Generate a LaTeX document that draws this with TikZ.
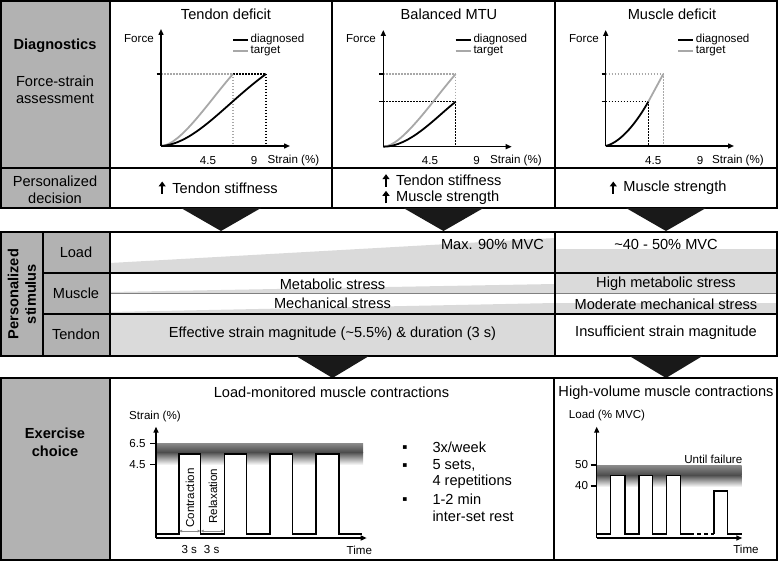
\documentclass[tikz,border=0pt]{standalone}
\usepackage{fontspec}
\setmainfont{Liberation Sans}
\newfontfamily\dejavu{DejaVu Sans}
\usetikzlibrary{arrows.meta,calc}
\definecolor{colgray}{HTML}{B2B2B2}
\definecolor{fillgray}{HTML}{DADADA}
\definecolor{tgtgray}{HTML}{A8A8A8}
\begin{document}
\begin{tikzpicture}[x=1pt,y=-1pt,
 frameline/.style={line width=1.5pt, draw=black},
 big/.style={font=\fontsize{14.6}{17.5}\selectfont, inner sep=0pt},
 bigb/.style={font=\fontsize{14.6}{17.5}\selectfont\bfseries, inner sep=0pt, align=center},
 small/.style={font=\fontsize{11.6}{13}\selectfont, inner sep=0pt},
 axarrow/.style={line width=1.4pt, -{Triangle[length=6pt,width=5pt]}},
 diagline/.style={line width=1.8pt},
 tgt/.style={line width=1.8pt, draw=tgtgray},
 dotk/.style={line width=1.4pt, dash pattern=on 1.5pt off 1.5pt},
 dotg/.style={line width=1.4pt, dash pattern=on 1.5pt off 1.5pt, draw=tgtgray},
 tickline/.style={line width=1.4pt},
 wave/.style={line width=1.4pt, line join=miter, fill=white},
 tri/.style={fill=black!90, draw=none},
 uparr/.style={line width=2.2pt, -{Triangle[length=5pt,width=7pt]}},
 garr/.style={draw=black!45, line width=1pt, {Latex[length=3pt,width=3pt]}-{Latex[length=3pt,width=3pt]}},
 bul/.style={font=\fontsize{7.5}{8}\dejavu, inner sep=0pt},
]
\useasboundingbox (0,0) rectangle (779,561);

% ================= Section 1 =================
\fill[colgray] (1,1) rectangle (110,208);
\draw[frameline] (1,1) rectangle (777,208);
\draw[frameline] (110,1) -- (110,208);
\draw[frameline] (332,1) -- (332,208);
\draw[frameline] (555,1) -- (555,208);
\draw[frameline] (1,168) -- (777,168);

\node[bigb] (diag) at (55,46) {Diagnostics};
\node[big, align=center] (fsa) at (55,90) {Force-strain\\assessment};
\node[big, align=center] (pdec) at (55,190) {Personalized\\decision};

\node[big] (t1) at (226,14) {Tendon deficit};
\node[big] (t2) at (449,14) {Balanced MTU};
\node[big] (t3) at (672,14) {Muscle deficit};

% ---- graph 1
\coordinate (o1) at (161,146);
\coordinate (y1) at (161,29);
\coordinate (x1) at (290,146);
\draw[dotg] (161,74) -- (233,74) -- (233,146);
\draw[dotk] (233,74) -- (266,74) -- (266,146);
\draw[tickline] (156.5,74) -- (161,74);
\draw[tgt] (o1) .. controls (180,146) and (210,100) .. (233,74);
\draw[diagline] (o1) .. controls (195,144) and (225,104) .. (266,74);
\draw[axarrow] (o1) -- (y1);
\draw[axarrow] (o1) -- (x1);
\node[small, anchor=east] (f1) at (154,39) {Force};
\draw[diagline] (233,40) -- (248,40);
\node[small, anchor=west] (l1a) at (250.5,40) {diagnosed};
\draw[tgt] (233,51) -- (248,51);
\node[small, anchor=west] (l1b) at (250.5,51) {target};
\node[small] (a1) at (208,160.7) {4.5};
\node[small] (b1) at (254,160.7) {9};
\node[small] (s1) at (293.5,160.7) {Strain (\%)};

% ---- graph 2
\coordinate (o2) at (383.3,146.7);
\coordinate (y2) at (383.3,30);
\coordinate (x2) at (511.7,146.7);
\draw[dotg] (383.3,74) -- (455.7,74) -- (455.7,101.7);
\draw[dotk] (383.3,101.7) -- (455.7,101.7) -- (455.7,146.7);
\draw[tickline] (379,74) -- (383.3,74);
\draw[tickline] (379,101.7) -- (383.3,101.7);
\draw[tgt] (o2) .. controls (402,146.7) and (433,100) .. (455.7,74);
\draw[diagline] (o2) .. controls (410,146.7) and (435,118) .. (455.7,101.7);
\draw[axarrow] (o2) -- (y2);
\draw[axarrow] (o2) -- (x2);
\node[small, anchor=east] (f2) at (376,39) {Force};
\draw[diagline] (455.7,40) -- (470.7,40);
\node[small, anchor=west] (l2a) at (473.3,40) {diagnosed};
\draw[tgt] (455.7,51) -- (470.7,51);
\node[small, anchor=west] (l2b) at (473.3,51) {target};
\node[small] (a2) at (430,160.7) {4.5};
\node[small] (b2) at (476.7,160.7) {9};
\node[small] (s2) at (516,160.7) {Strain (\%)};

% ---- graph 3
\coordinate (o3) at (605.7,146);
\coordinate (y3) at (605.7,30);
\coordinate (x3) at (734,146);
\draw[dotg] (605.7,74) -- (663.3,74) -- (663.3,146);
\draw[dotk] (605.7,101.7) -- (648.3,101.7) -- (648.3,146);
\draw[tickline] (601.5,74) -- (605.7,74);
\draw[tickline] (601.5,101.7) -- (605.7,101.7);
\draw[tgt] (648.3,101.7) -- (663.3,74);
\draw[diagline] (o3) .. controls (622,142) and (638,120) .. (648.3,101.7);
\draw[axarrow] (o3) -- (y3);
\draw[axarrow] (o3) -- (x3);
\node[small, anchor=east] (f3) at (599,39) {Force};
\draw[diagline] (678.3,40) -- (693.3,40);
\node[small, anchor=west] (l3a) at (695.7,40) {diagnosed};
\draw[tgt] (678.3,51) -- (693.3,51);
\node[small, anchor=west] (l3b) at (695.7,51) {target};
\node[small] (a3) at (653.3,160.7) {4.5};
\node[small] (b3) at (700,160.7) {9};
\node[small] (s3) at (738,160.7) {Strain (\%)};

% ---- decisions
\node[big] (d1) at (225,188) {Tendon stiffness};
\draw[uparr] ($(d1.west)+(-10,6)$) -- ($(d1.west)+(-10,-6.5)$);
\node[big, anchor=west] (d2a) at (396,180.7) {Tendon stiffness};
\node[big, anchor=west] (d2b) at (396,197.3) {Muscle strength};
\draw[uparr] ($(d2a.west)+(-10,6)$) -- ($(d2a.west)+(-10,-6.5)$);
\draw[uparr] ($(d2b.west)+(-10,6)$) -- ($(d2b.west)+(-10,-6.5)$);
\node[big] (d3) at (675,188) {Muscle strength};
\draw[uparr] ($(d3.west)+(-10,6)$) -- ($(d3.west)+(-10,-6.5)$);

% ---- triangles
\fill[tri] (181,208) -- (261,208) -- (221,231) -- cycle;
\fill[tri] (403.5,208) -- (483.5,208) -- (443.5,231) -- cycle;
\fill[tri] (626,208) -- (706,208) -- (666,231) -- cycle;

% ================= Section 2 =================
\fill[colgray] (1,232) rectangle (110,356);
\fill[fillgray] (110,263) -- (555,238) -- (555,273) -- (110,273) -- cycle;
\fill[fillgray] (555,249) rectangle (777,273);
\fill[fillgray] (110,292) -- (555,284) -- (555,293) -- (110,293) -- cycle;
\fill[fillgray] (110,312) -- (555,303) -- (555,314) -- (110,314) -- cycle;
\fill[fillgray] (555,273) rectangle (777,293);
\fill[fillgray] (555,303) rectangle (777,314);
\fill[fillgray] (110,314) rectangle (555,356);
\draw[line width=0.8pt, black!50] (110,293) -- (777,293);
\draw[frameline] (1,232) rectangle (777,356);
\draw[frameline] (43,232) -- (43,356);
\draw[frameline] (110,232) -- (110,356);
\draw[frameline] (555,232) -- (555,356);
\draw[frameline] (43,273) -- (777,273);
\draw[frameline] (43,314) -- (777,314);

\node[bigb, rotate=90] (ps) at (22,294) {Personalized\\stimulus};
\node[big] (ld) at (76,252) {Load};
\node[big] (ms) at (76,293.3) {Muscle};
\node[big] (td) at (76,334.3) {Tendon};
\node[big, anchor=east] (mx) at (544,244) {Max. 90\% MVC};
\node[big] (r40) at (666,244) {\textasciitilde40 - 50\% MVC};
\node[big] (met) at (332.5,284.3) {Metabolic stress};
\node[big] (mec) at (332.5,303.3) {Mechanical stress};
\node[big] (eff) at (332.5,334) {Effective strain magnitude (\textasciitilde5.5\%) \& duration (3 s)};
\node[big] (hme) at (666,284) {High metabolic stress};
\node[big] (mme) at (666,304) {Moderate mechanical stress};
\node[big] (ins) at (666,333) {Insufficient strain magnitude};

\fill[tri] (296,356) -- (369,356) -- (332.5,378) -- cycle;
\fill[tri] (629.5,356) -- (702.5,356) -- (666,378) -- cycle;

% ================= Section 3 =================
\fill[colgray] (1,378) rectangle (110,560);
\draw[frameline] (1,378) rectangle (777,560);
\draw[frameline] (110,378) -- (110,560);
\draw[frameline] (554,378) -- (554,560);
\node[bigb] (ex) at (55,442.5) {Exercise\\choice};
\node[big] (lmt) at (331.5,392.7) {Load-monitored muscle contractions};
\node[big] (hvt) at (666,392.7) {High-volume muscle contractions};

% ---- left graph
\shade[top color=black!45, bottom color=black!70] (156,443) rectangle (363,452);
\shade[top color=black!70, bottom color=white] (156,452) rectangle (363,465);
\draw[wave] (156,534) -- (179,534) -- (179,454) -- (200.7,454) -- (200.7,534) -- (224.3,534) -- (224.3,454) -- (246.7,454) -- (246.7,534) -- (270,534) -- (270,454) -- (292.7,454) -- (292.7,534) -- (316,534) -- (316,454) -- (339,454) -- (339,534) -- (361.7,534);
\coordinate (oL) at (156,538);
\coordinate (yL) at (156,426.7);
\coordinate (xL) at (366.7,538);
\draw[axarrow] (oL) -- (yL);
\draw[axarrow] (oL) -- (xL);
\draw[tickline] (150,443.3) -- (156,443.3);
\draw[tickline] (150,464.3) -- (156,464.3);
\node[small] (sL) at (155,416) {Strain (\%)};
\node[small] (v65) at (137.5,443.3) {6.5};
\node[small] (v45) at (137.5,464.3) {4.5};
\coordinate (c1) at (179,531);
\coordinate (c2) at (200.7,531);
\coordinate (c3) at (224.3,531);
\draw[garr] (c1) -- (c2);
\draw[garr] (c2) -- (c3);
\node[small, rotate=90] (con) at (190,498) {Contraction};
\node[small, rotate=90] (rel) at (213,496) {Relaxation};
\node[small] (s3a) at (189.3,550) {3 s};
\node[small] (s3b) at (211.7,550) {3 s};
\node[small] (tL) at (359.3,550) {Time};

% ---- bullets
\node[bul] (bu1) at (405,448) {▪};
\node[bul] (bu2) at (405,466) {▪};
\node[bul] (bu3) at (405,499.3) {▪};
\node[big, anchor=west] (li1) at (432.3,447.7) {3x/week};
\node[big, anchor=west] (li2) at (432.3,465.7) {5 sets,};
\node[big, anchor=west] (li3) at (432.3,481.7) {4 repetitions};
\node[big, anchor=west] (li4) at (432.3,499) {1-2 min};
\node[big, anchor=west] (li5) at (432.3,516.7) {inter-set rest};

% ---- right graph
\shade[top color=black!45, bottom color=black!70] (596.7,465) rectangle (741.7,475);
\shade[top color=black!70, bottom color=white] (596.7,475) rectangle (741.7,487);
\draw[wave] (596.7,534) -- (610.7,534) -- (610.7,475.7) -- (625,475.7) -- (625,534) -- (639,534) -- (639,475.7) -- (652.7,475.7) -- (652.7,534) -- (666.7,534) -- (666.7,475.7) -- (680.7,475.7) -- (680.7,534) -- (690,534);
\draw[line width=1.4pt, dash pattern=on 4pt off 3pt] (690,534) -- (714,534);
\draw[wave] (714,534) -- (714,491) -- (727.7,491) -- (727.7,534) -- (741.7,534);
\coordinate (oR) at (596.7,538);
\coordinate (yR) at (596.7,426.7);
\coordinate (xR) at (742.3,538);
\draw[axarrow] (oR) -- (yR);
\draw[axarrow] (oR) -- (xR);
\draw[tickline] (590.5,465) -- (596.7,465);
\draw[tickline] (590.5,486) -- (596.7,486);
\node[small] (lR) at (607,415) {Load (\% MVC)};
\node[small] (v50) at (581.5,465) {50};
\node[small] (v40) at (581.5,486) {40};
\node[small] (uf) at (713.3,459) {Until failure};
\node[small] (tR) at (746,549) {Time};
\end{tikzpicture}
\end{document}
